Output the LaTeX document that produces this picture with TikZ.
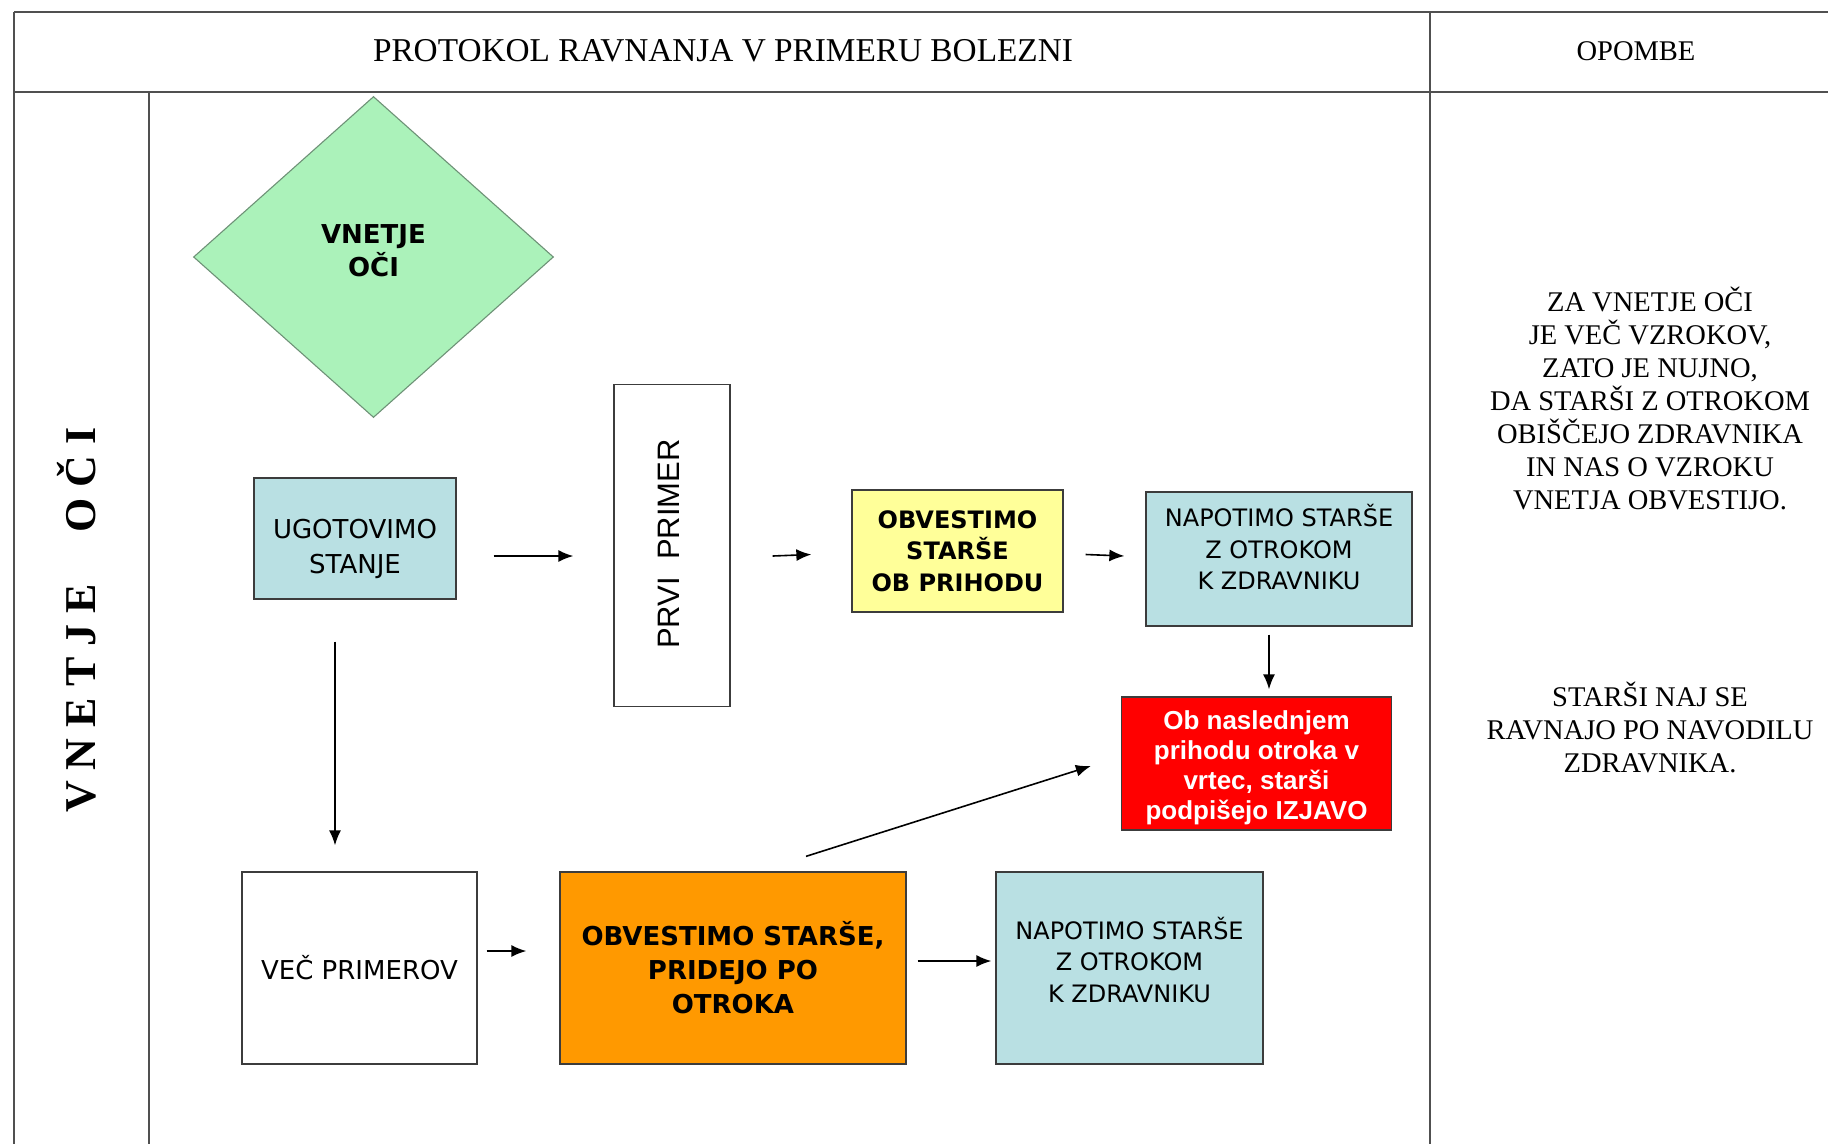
\documentclass[tikz,border=0pt]{standalone}
\usepackage{fontspec}
\setmainfont{Liberation Serif}
\newfontfamily\tah{DejaVu Sans}
\newfontfamily\ari{Liberation Sans}
\usetikzlibrary{arrows.meta,shapes.geometric}
\definecolor{tblline}{HTML}{505050}
\definecolor{boxline}{HTML}{3C3C3C}
\definecolor{dgreen}{HTML}{ABF2BA}
\definecolor{dgreenline}{HTML}{6E9277}
\definecolor{lblue}{HTML}{B9E0E3}
\definecolor{yel}{HTML}{FFFF99}
\definecolor{ora}{HTML}{FF9900}
\definecolor{redbox}{HTML}{FF0000}
\tikzset{
  tbl/.style={draw=tblline, line width=1.4pt},
  tblthick/.style={draw=tblline, line width=2.8pt},
  boxst/.style={draw=boxline, line width=1.3pt, inner sep=0pt, align=center},
  regtxt/.style={align=center, inner sep=0pt, font=\tah\fontsize{24}{31.5}\selectfont},
  arr/.style={-{Latex[length=15pt,width=12pt]}, line width=1.6pt, draw=black},
}
\begin{document}
\begin{tikzpicture}[x=1pt,y=-1pt]
\useasboundingbox (0,0) rectangle (1828,1144);
\fill[white] (0,0) rectangle (1828,1144);
% table
\draw[tblthick] (14,12) -- (1828,12);
\draw[tblthick] (14,92) -- (1828,92);
\draw[tbl] (14,12) -- (14,1144);
\draw[tbl] (1430,12) -- (1430,1144);
\draw[tbl] (149,92) -- (149,1144);
% headers
\node[inner sep=0pt, font=\fontsize{33.3}{38}\selectfont] (title) at (723,51) {PROTOKOL RAVNANJA V PRIMERU BOLEZNI};
\node[inner sep=0pt, font=\fontsize{28.5}{33}\selectfont] (opombe) at (1636,51) {OPOMBE};
% lane label
\node[inner sep=0pt, rotate=90, font=\bfseries\fontsize{44}{50}\selectfont] (lane) at (77,620)
  {V\hspace{11pt}N\hspace{11pt}E\hspace{11pt}T\hspace{11pt}J\hspace{11pt}E\hspace{52pt}O\hspace{11pt}Č\hspace{11pt}I};
% notes
\node[align=center, inner sep=0pt, font=\fontsize{28.5}{33}\selectfont] (note1) at (1650,398)
  {ZA VNETJE OČI\\JE VEČ VZROKOV,\\ZATO JE NUJNO,\\DA STARŠI Z OTROKOM\\OBIŠČEJO ZDRAVNIKA\\IN NAS O VZROKU\\VNETJA OBVESTIJO.};
\node[align=center, inner sep=0pt, font=\fontsize{28.5}{33}\selectfont] (note2) at (1650,727)
  {STARŠI NAJ SE\\RAVNAJO PO NAVODILU\\ZDRAVNIKA.};
% diamond
\node[diamond, draw=dgreenline, line width=1.1pt, fill=dgreen, inner sep=0pt, minimum width=360, minimum height=321] (dia) at (373.5,257) {};
\node[align=center, inner sep=0pt, font=\tah\bfseries\fontsize{26}{33}\selectfont] (diat) at (373.5,250.5) {VNETJE\\OČI};
% boxes
\node[boxst, fill=lblue, minimum width=202, minimum height=121] (ugo) at (355,538.5) {};
\node[regtxt, font=\tah\fontsize{26}{35}\selectfont] (ugot) at (355,549) {UGOTOVIMO\\STANJE};
\node[boxst, fill=white, minimum width=116, minimum height=322] (prvi) at (672,545.5) {};
\node[inner sep=0pt, rotate=90, font=\ari\fontsize{31}{35}\selectfont] (prvit) at (669,544) {PRVI\ \ PRIMER};
\node[boxst, fill=yel, minimum width=211, minimum height=122, font=\tah\bfseries\fontsize{24}{31.5}\selectfont] (obv) at (957.5,551) {OBVESTIMO\\STARŠE\\OB PRIHODU};
\node[boxst, fill=lblue, minimum width=266, minimum height=134] (nap1) at (1279,559) {};
\node[regtxt] (nap1t) at (1279,547.5) {NAPOTIMO STARŠE\\Z OTROKOM\\K ZDRAVNIKU};
\node[boxst, fill=redbox, minimum width=270, minimum height=133] (red) at (1256.5,763.5) {};
\node[align=center, inner sep=0pt, text=white, font=\ari\bfseries\fontsize{26}{30}\selectfont] (redt) at (1256.5,768) {Ob naslednjem\\prihodu otroka v\\vrtec, starši\\podpišejo IZJAVO};
\node[boxst, fill=white, minimum width=235, minimum height=192, font=\tah\fontsize{26}{33}\selectfont] (vec) at (359.5,968) {VEČ PRIMEROV};
\node[boxst, fill=ora, minimum width=346, minimum height=192, font=\tah\bfseries\fontsize{26}{34}\selectfont] (oran) at (733,968) {OBVESTIMO STARŠE,\\PRIDEJO PO\\OTROKA};
\node[boxst, fill=lblue, minimum width=267, minimum height=192] (nap2) at (1129.5,968) {};
\node[regtxt] (nap2t) at (1129.5,960) {NAPOTIMO STARŠE\\Z OTROKOM\\K ZDRAVNIKU};
% arrows
\draw[arr] ([shift={(37,17.5)}]ugo.east) -- ([shift={(-40,10.5)}]prvi.west);
\draw[arr] ([shift={(42,10.5)}]prvi.east) -- ([shift={(-40,3.5)}]obv.west);
\draw[arr] ([shift={(22,3.5)}]obv.east) -- ([shift={(-21,-3)}]nap1.west);
\draw[arr] ([shift={(-10,8)}]nap1.south) -- ([shift={(12.5,-7)}]red.north);
\draw[arr] ([shift={(-20,42)}]ugo.south) -- ([shift={(-24.5,-26)}]vec.north);
\draw[arr] ([shift={(9,-17)}]vec.east) -- ([shift={(-33,-17)}]oran.west);
\draw[arr] ([shift={(11,-7)}]oran.east) -- ([shift={(-4,-7)}]nap2.west);
\draw[arr] ([shift={(73,-15)}]oran.north) -- ([shift={(-30,2.5)}]red.west);
\end{tikzpicture}
\end{document}
